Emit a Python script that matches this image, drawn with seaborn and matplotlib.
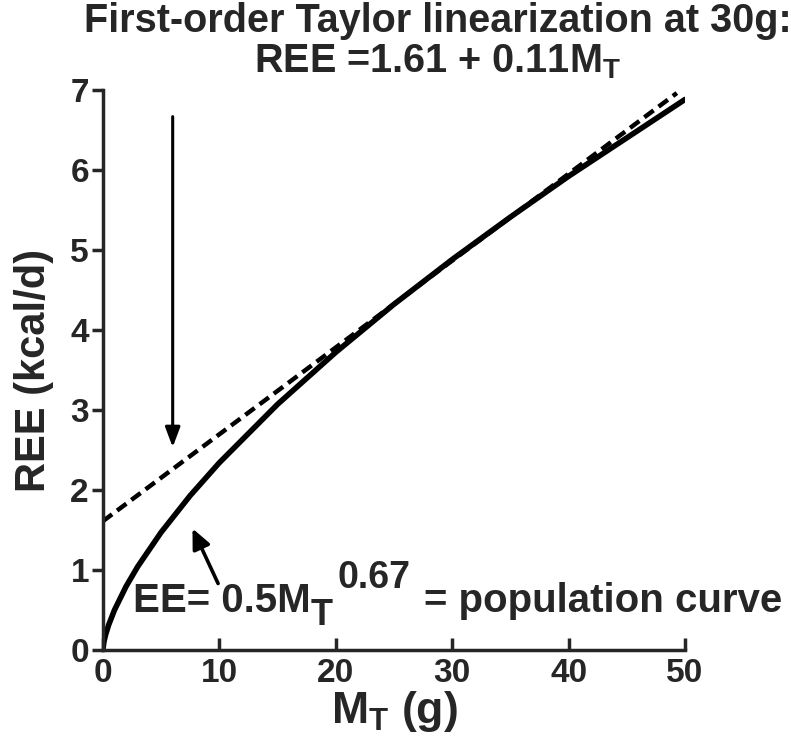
import matplotlib
matplotlib.use("Agg")
import matplotlib.pyplot as plt
import seaborn as sns
import pandas as pd

# population curve (REE in kcal/d vs body mass in g)
curve_mass = [0, 0.1, 0.25, 0.5, 1, 2, 3, 5, 7.5, 10, 15, 20, 25, 30, 35, 40, 45, 50]
curve_ree = [0, 0.107, 0.197, 0.314, 0.5, 0.796, 1.044, 1.47, 1.93, 2.34,
             3.07, 3.72, 4.32, 4.88, 5.41, 5.92, 6.40, 6.88]

# tangent line at 30 g (dashed)
line_mass = [0, 49.3]
line_ree = [1.61, 6.96]

x_ticks = [0, 10, 20, 30, 40, 50]
y_ticks = [0, 1, 2, 3, 4, 5, 6, 7]

sns.set_style("ticks")
plt.rcParams["font.family"] = ["Liberation Sans", "DejaVu Sans"]
plt.rcParams["font.weight"] = "bold"
plt.rcParams["mathtext.fontset"] = "custom"
plt.rcParams["mathtext.rm"] = "Liberation Sans:bold"
plt.rcParams["mathtext.it"] = "Liberation Sans:bold"
plt.rcParams["mathtext.bf"] = "Liberation Sans:bold"

curve_df = pd.DataFrame({"mass": curve_mass, "ree": curve_ree})
line_df = pd.DataFrame({"mass": line_mass, "ree": line_ree})

fig = plt.figure(figsize=(7.91, 7.55), dpi=100)
ax = fig.add_axes([0.130, 0.139, 0.736, 0.742])

sns.lineplot(data=curve_df, x="mass", y="ree", ax=ax, color="black",
             linewidth=4.0, sort=False)
sns.lineplot(data=line_df, x="mass", y="ree", ax=ax, color="black",
             linewidth=3.2, linestyle=(0, (2.6, 1.4)), sort=False)

ax.set_xlim(0, 50)
ax.set_ylim(0, 7)
ax.set_xticks(x_ticks)
ax.set_yticks(y_ticks)
ax.tick_params(axis="y", direction="out", length=8, width=2.5, labelsize=24, pad=2)
ax.tick_params(axis="x", direction="in", length=9, width=2.5, labelsize=24, pad=6)
for lab in ax.get_xticklabels() + ax.get_yticklabels():
    lab.set_fontweight("bold")
for side in ["top", "right"]:
    ax.spines[side].set_visible(False)
for side in ["left", "bottom"]:
    ax.spines[side].set_linewidth(2.5)

ax.set_xlabel("M$_\\mathrm{T}$ (g)", fontsize=32, fontweight="bold", labelpad=0)
ax.set_ylabel("REE (kcal/d)", fontsize=30, fontweight="bold", labelpad=12)

fig.text(0.553, 0.972, "First-order Taylor linearization at 30g:",
         ha="center", va="center", fontsize=28.5, fontweight="bold")
fig.text(0.553, 0.918, "REE =1.61 + 0.11M$_\\mathrm{T}$",
         ha="center", va="center", fontsize=28.5, fontweight="bold")

# arrow pointing down to the tangent line
ax.annotate("", xy=(6.0, 2.5), xytext=(6.0, 6.7),
            arrowprops=dict(arrowstyle="-|>,head_length=1.2,head_width=0.45",
                            color="black", lw=2.2))
# arrow pointing to the population curve
ax.annotate("", xy=(7.6, 1.55), xytext=(10.0, 0.8),
            arrowprops=dict(arrowstyle="-|>,head_length=1.2,head_width=0.55",
                            color="black", lw=2.6))

# population curve label, built piece by piece so the exponent sits high
t1 = ax.text(2.6, 0.48, "EE= 0.5M", fontsize=29, fontweight="bold",
             ha="left", va="baseline")
t2 = ax.annotate("T", xy=(1, 0), xycoords=t1, xytext=(0, -3.5),
                 textcoords="offset points", fontsize=26, fontweight="bold",
                 ha="left", va="baseline")
t3 = ax.annotate("0.67", xy=(1, 0), xycoords=(t2, t1), xytext=(3, 22.5),
                 textcoords="offset points", fontsize=27, fontweight="bold",
                 ha="left", va="baseline")
ax.annotate("= population curve", xy=(1, 0), xycoords=(t3, t1), xytext=(10, 0),
            textcoords="offset points", fontsize=29, fontweight="bold",
            ha="left", va="bottom")

fig.savefig("out.png", dpi=100)
